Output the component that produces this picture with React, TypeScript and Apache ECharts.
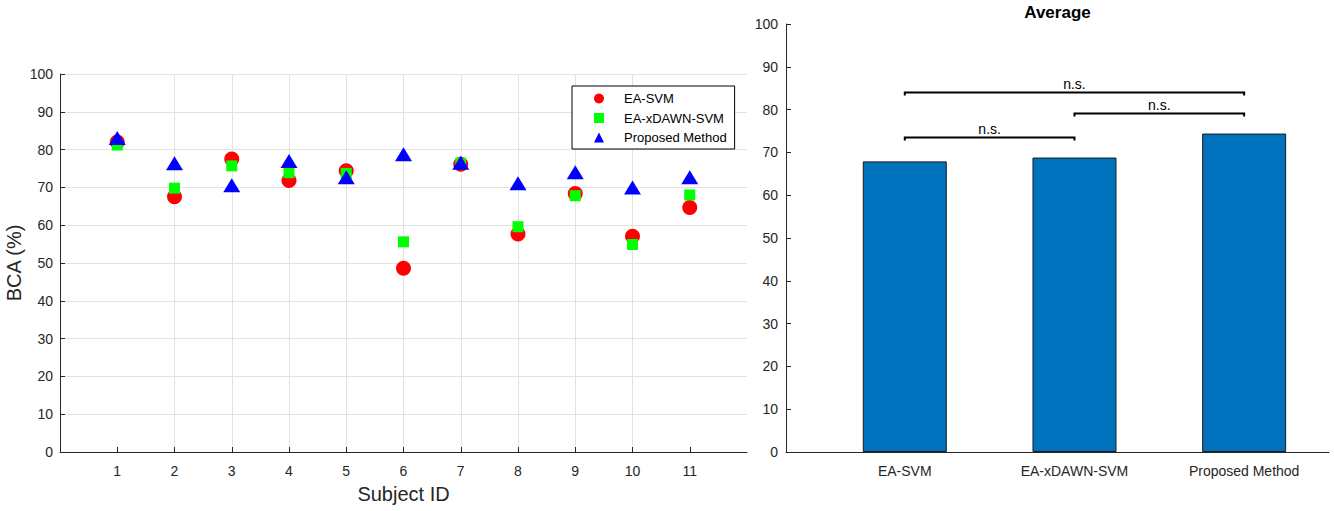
import React, { useEffect, useRef } from "react";
import * as echarts from "echarts";

// ---- data ----
const subjects = [1, 2, 3, 4, 5, 6, 7, 8, 9, 10, 11];
const eaSvm = [82.0, 67.5, 77.5, 71.8, 74.4, 48.6, 76.1, 57.7, 68.4, 57.1, 64.7];
const eaXdawnSvm = [81.2, 69.8, 75.7, 73.9, 73.7, 55.6, 76.4, 59.6, 67.8, 54.9, 68.0];
const proposed = [83.1, 76.4, 70.6, 77.0, 72.7, 78.8, 76.5, 71.1, 74.0, 70.0, 72.7];

const methodNames = ["EA-SVM", "EA-xDAWN-SVM", "Proposed Method"];
const averages = [67.9, 68.8, 74.4];

const bracketFrom = [1, 2, 1];
const bracketTo = [2, 3, 3];
const bracketY = [73.5, 79.1, 84.0];
const bracketLabels = ["n.s.", "n.s.", "n.s."];

const FONT = "'Liberation Sans', Arial, Helvetica, sans-serif";
const AXIS = "#262626";

export default function App() {
  const ref = useRef<HTMLDivElement>(null);

  useEffect(() => {
    document.body.style.margin = "0";
    if (!ref.current) return;
    const chart = echarts.init(ref.current, undefined, { renderer: "svg" });

    const axisCommon = {
      axisLine: { show: true, lineStyle: { color: AXIS, width: 1 } },
      axisTick: { show: true, inside: true, length: 5, lineStyle: { color: AXIS } },
      axisLabel: { color: AXIS, fontSize: 14, fontFamily: FONT },
      nameTextStyle: { color: AXIS, fontSize: 20, fontFamily: FONT },
      nameMoveOverlap: false,
    };

    const option: any = {
      animation: false,
      backgroundColor: "#ffffff",
      textStyle: { fontFamily: FONT },
      grid: [
        { left: 60, top: 74, width: 687, height: 378, containLabel: false, outerBoundsMode: "none" },
        { left: 786, top: 24, width: 543, height: 428, containLabel: false, outerBoundsMode: "none" },
      ],
      legend: {
        data: methodNames,
        orient: "vertical",
        left: 572,
        top: 86,
        padding: [6, 8, 5, 22],
        itemGap: 6.5,
        itemWidth: 10,
        itemHeight: 10,
        borderColor: "#000",
        borderWidth: 1,
        backgroundColor: "#fff",
        textStyle: {
          color: "#000",
          fontSize: 13,
          lineHeight: 13,
          fontFamily: FONT,
          padding: [0, 0, 0, 15],
        },
      },
      graphic: [
        {
          type: "text",
          x: 1057.5,
          y: 12,
          style: {
            text: "Average",
            fill: "#000",
            font: `bold 17px ${FONT}`,
            align: "center",
            verticalAlign: "middle",
          },
        },
      ],
      xAxis: [
        {
          ...axisCommon,
          gridIndex: 0,
          type: "value",
          min: 0,
          max: 12,
          interval: 1,
          name: "Subject ID",
          nameLocation: "middle",
          nameGap: 32,
          axisTick: { ...axisCommon.axisTick, customValues: subjects },
          axisLabel: { ...axisCommon.axisLabel, margin: 12, customValues: subjects },
          splitLine: { show: true, showMinLine: false, showMaxLine: false, lineStyle: { color: "#e2e2e2" } },
        },
        {
          ...axisCommon,
          gridIndex: 1,
          type: "value",
          min: 0.3,
          max: 3.5,
          axisTick: { ...axisCommon.axisTick, customValues: [1, 2, 3] },
          axisLabel: {
            ...axisCommon.axisLabel,
            margin: 12,
            customValues: [1, 2, 3],
            formatter: (v: number) => methodNames[Math.round(v) - 1] ?? "",
          },
          splitLine: { show: false },
        },
      ],
      yAxis: [
        {
          ...axisCommon,
          gridIndex: 0,
          type: "value",
          min: 0,
          max: 100,
          interval: 10,
          name: "BCA (%)",
          nameLocation: "middle",
          nameGap: 36,
          nameTextStyle: { ...axisCommon.nameTextStyle, fontSize: 20 },
          axisLabel: { ...axisCommon.axisLabel, margin: 7 },
          splitLine: { show: true, lineStyle: { color: "#e2e2e2" } },
        },
        {
          ...axisCommon,
          gridIndex: 1,
          type: "value",
          min: 0,
          max: 100,
          interval: 10,
          axisLabel: { ...axisCommon.axisLabel, margin: 8 },
          splitLine: { show: false },
        },
      ],
      series: [
        {
          name: methodNames[0],
          type: "scatter",
          xAxisIndex: 0,
          yAxisIndex: 0,
          symbol: "circle",
          symbolSize: 15,
          itemStyle: { color: "#ff0000", opacity: 1 },
          data: subjects.map((s, i) => [s, eaSvm[i]]),
          z: 2,
        },
        {
          name: methodNames[1],
          type: "scatter",
          xAxisIndex: 0,
          yAxisIndex: 0,
          symbol: "rect",
          symbolSize: 11,
          itemStyle: { color: "#00ff00", opacity: 1 },
          data: subjects.map((s, i) => [s, eaXdawnSvm[i]]),
          z: 3,
        },
        {
          name: methodNames[2],
          type: "scatter",
          xAxisIndex: 0,
          yAxisIndex: 0,
          symbol: "triangle",
          symbolSize: [17, 14],
          itemStyle: { color: "#0000ff", opacity: 1 },
          data: subjects.map((s, i) => [s, proposed[i]]),
          z: 4,
        },
        {
          name: "Average",
          type: "bar",
          xAxisIndex: 1,
          yAxisIndex: 1,
          barWidth: 84,
          itemStyle: { color: "#0072BD", borderColor: "#1a1a1a", borderWidth: 1 },
          data: averages.map((v, i) => [i + 1, v]),
        },
        {
          name: "brackets",
          type: "custom",
          xAxisIndex: 1,
          yAxisIndex: 1,
          clip: false,
          z: 5,
          encode: { x: [0, 1], y: 2 },
          data: bracketFrom.map((f, i) => [f, bracketTo[i], bracketY[i], i]),
          renderItem: (params: any, api: any) => {
            const from = api.value(0);
            const to = api.value(1);
            const y = api.value(2);
            const idx = api.value(3);
            const drop = 0.7;
            const p0 = api.coord([from, y - drop]);
            const p1 = api.coord([from, y]);
            const p2 = api.coord([to, y]);
            const p3 = api.coord([to, y - drop]);
            return {
              type: "group",
              children: [
                {
                  type: "polyline",
                  shape: { points: [p0, p1, p2, p3] },
                  style: { stroke: "#000", lineWidth: 2, fill: null },
                },
                {
                  type: "text",
                  x: (p1[0] + p2[0]) / 2,
                  y: p1[1] - 1,
                  style: {
                    text: bracketLabels[idx],
                    fill: "#000",
                    font: `14px ${FONT}`,
                    align: "center",
                    verticalAlign: "bottom",
                  },
                },
              ],
            };
          },
        },
      ],
    };

    chart.setOption(option);
    return () => {
      chart.dispose();
    };
  }, []);

  return <div ref={ref} style={{ width: 1334, height: 511 }} />;
}
